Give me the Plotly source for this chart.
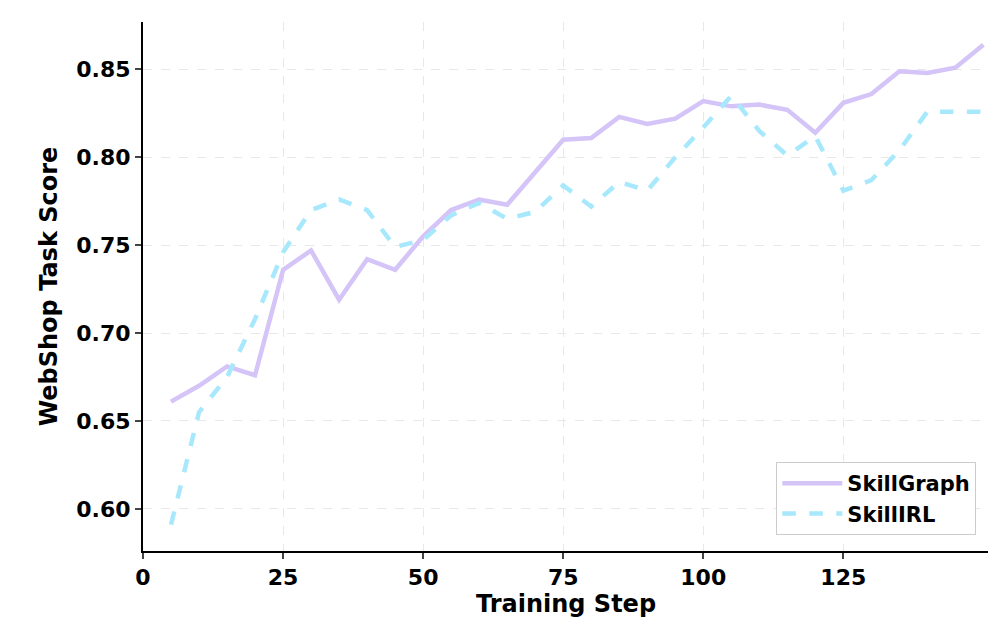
import plotly.graph_objects as go

steps = list(range(5, 151, 5))
skillgraph = [0.661, 0.670, 0.681, 0.676, 0.736, 0.747, 0.719, 0.742, 0.736, 0.755,
              0.770, 0.776, 0.773, 0.792, 0.810, 0.811, 0.823, 0.819, 0.822, 0.832,
              0.829, 0.830, 0.827, 0.814, 0.831, 0.836, 0.849, 0.848, 0.851, 0.864]
skillrl = [0.591, 0.655, 0.675, 0.708, 0.746, 0.770, 0.776, 0.770, 0.749, 0.753,
           0.767, 0.774, 0.765, 0.769, 0.784, 0.772, 0.786, 0.781, 0.800, 0.817,
           0.835, 0.815, 0.801, 0.812, 0.781, 0.787, 0.804, 0.826, 0.826, 0.826]
x_ticks = [0, 25, 50, 75, 100, 125]
y_ticks = [0.60, 0.65, 0.70, 0.75, 0.80, 0.85]

fig = go.Figure()
fig.add_trace(go.Scatter(x=steps, y=skillgraph, mode="lines", name="<b>SkillGraph</b>",
                         line=dict(color="#d4c4f7", width=4.5)))
fig.add_trace(go.Scatter(x=steps, y=skillrl, mode="lines", name="<b>SkillIRL</b>",
                         line=dict(color="#a8e8fc", width=4.5, dash="dash")))
axis_common = dict(showline=True, linecolor="black", linewidth=2, ticks="outside",
                   ticklen=6, tickwidth=2, showgrid=True, gridcolor="#e8e8e8",
                   griddash="dash", gridwidth=1, zeroline=False, automargin=False,
                   tickfont=dict(family="DejaVu Sans", size=22, color="black"))
fig.update_layout(
    width=996, height=635, plot_bgcolor="white", paper_bgcolor="white",
    margin=dict(l=135, r=15, t=14, b=92),
    font=dict(family="DejaVu Sans", size=20, color="black"),
    xaxis=dict(range=[0, 151], tickvals=x_ticks,
               ticktext=[f"<b>{v}</b>" for v in x_ticks],
               title=dict(text="<b>Training Step</b>", font=dict(size=24), standoff=6),
               **axis_common),
    yaxis=dict(range=[0.576, 0.877], tickvals=y_ticks,
               ticktext=[f"<b>{v:.2f}</b>" for v in y_ticks],
               title=dict(text="<b>WebShop Task Score</b>", font=dict(size=24), standoff=12),
               **axis_common),
    legend=dict(x=0.985, y=0.03, xanchor="right", yanchor="bottom",
                bgcolor="white", bordercolor="#cccccc", borderwidth=1,
                font=dict(family="DejaVu Sans", size=21, color="black"),
                itemwidth=60),
)
fig.write_html("out.html")
